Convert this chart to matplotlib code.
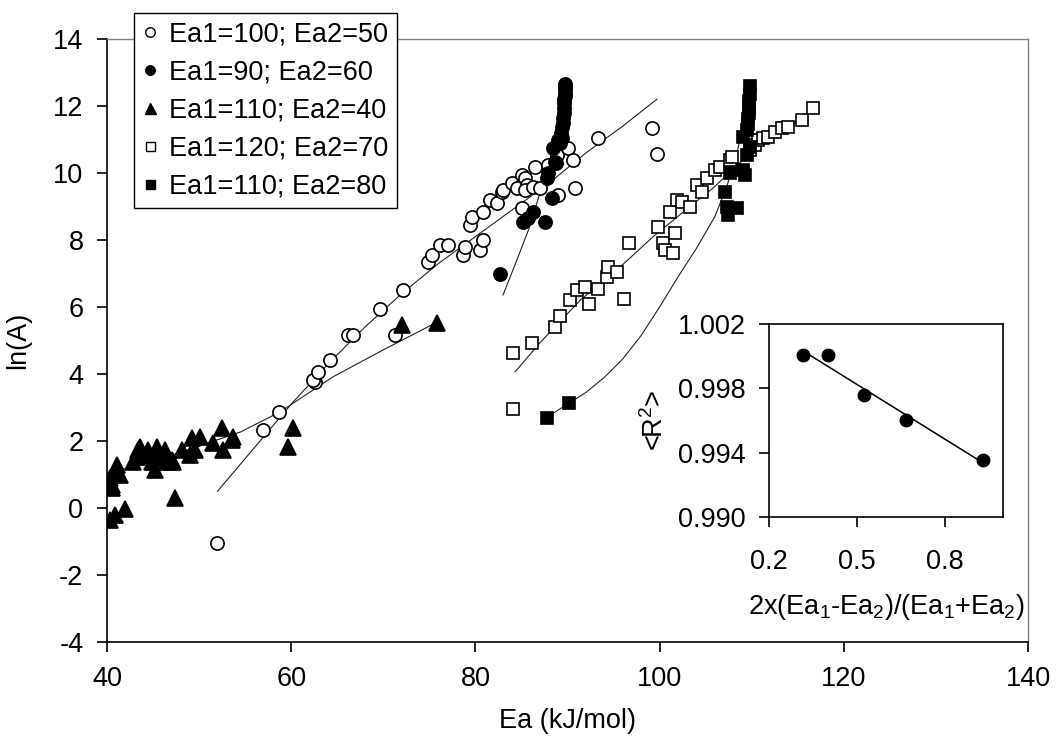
import numpy as np
import matplotlib.pyplot as plt
from matplotlib.lines import Line2D

plt.rcParams['font.family'] = ['Liberation Sans', 'DejaVu Sans']
plt.rcParams['mathtext.fontset'] = 'custom'
plt.rcParams['mathtext.rm'] = 'Liberation Sans'
plt.rcParams['mathtext.it'] = 'Liberation Sans'
plt.rcParams['axes.unicode_minus'] = False
FS = 19.5

# Ea1=100; Ea2=50 (open circles)
x_100_50 = [51.9, 56.9, 58.7, 62.6, 62.4, 62.9, 64.2, 66.2, 66.7, 69.6, 71.3, 72.1,
            74.9, 75.3, 76.2, 77.0, 78.6, 78.9, 80.5, 80.8, 79.4, 79.6, 80.8, 81.6,
            82.3, 82.9, 83.0, 84.0, 84.5, 85.1, 85.4, 85.6, 85.4, 85.1, 86.5, 86.3,
            87.0, 87.9, 88.9, 89.0, 90.1, 90.6, 90.8, 93.3, 99.2, 99.7]
y_100_50 = [-1.04, 2.33, 2.87, 3.76, 3.82, 4.06, 4.42, 5.16, 5.16, 5.94, 5.16, 6.51,
            7.34, 7.55, 7.85, 7.85, 7.55, 7.79, 7.7, 8.0, 8.45, 8.69, 8.84, 9.19,
            9.1, 9.43, 9.49, 9.7, 9.55, 9.94, 9.85, 9.64, 9.49, 8.96, 10.18, 9.58,
            9.55, 10.24, 10.54, 9.34, 10.75, 10.39, 9.55, 11.04, 11.34, 10.57]

# Ea1=90; Ea2=60 (filled circles)
x_90_60 = [82.7, 85.2, 85.7, 86.3, 87.6, 88.3, 87.8, 87.9, 88.6, 88.8, 88.4, 89.0,
           89.2, 89.4, 89.3, 89.4, 89.5, 89.5, 89.6, 89.6, 89.6, 89.6, 89.7, 89.7,
           89.7, 89.7, 89.7]
y_90_60 = [6.99, 8.54, 8.66, 8.84, 8.54, 9.25, 9.85, 10.0, 10.33, 10.3, 10.75, 11.0,
           10.9, 11.04, 11.2, 11.37, 11.5, 11.65, 11.8, 11.95, 12.1, 12.2, 12.3, 12.4,
           12.5, 12.58, 12.65]

# Ea1=110; Ea2=40 (filled triangles)
x_110_40 = [40.3, 40.9, 42.0, 40.5, 40.5, 40.9, 41.1, 41.4, 40.3, 42.8, 43.4, 43.6,
            43.3, 43.9, 44.5, 44.9, 45.2, 45.4, 45.5, 45.9, 46.3, 46.5, 47.1, 47.2,
            47.4, 48.1, 49.0, 49.2, 49.6, 50.1, 51.5, 52.5, 52.6, 53.6, 53.7, 59.7,
            60.2, 72.0, 75.8]
y_110_40 = [-0.36, -0.2, -0.03, 0.6, 0.69, 1.07, 1.28, 0.99, 0.9, 1.37, 1.73, 1.82,
            1.52, 1.58, 1.73, 1.37, 1.13, 1.82, 1.64, 1.49, 1.73, 1.37, 1.43, 1.37,
            0.3, 1.73, 1.58, 2.09, 1.73, 2.12, 1.94, 2.39, 1.73, 2.03, 2.12, 1.82,
            2.39, 5.46, 5.52]

# Ea1=120; Ea2=70 (open squares)
x_120_70 = [84.1, 84.1, 86.1, 88.6, 89.2, 90.3, 91.0, 91.9, 92.3, 93.3, 94.3, 94.4,
            95.4, 96.1, 96.7, 99.8, 100.4, 100.6, 101.1, 101.7, 101.5, 101.9, 102.4,
            103.3, 104.1, 104.6, 105.1, 106.0, 106.6, 107.6, 107.9, 109.8, 110.4,
            110.7, 111.2, 111.8, 112.5, 113.3, 113.9, 115.5, 116.7]
y_120_70 = [2.96, 4.63, 4.93, 5.4, 5.73, 6.21, 6.51, 6.6, 6.09, 6.54, 6.9, 7.19,
            7.04, 6.24, 7.91, 8.39, 7.91, 7.7, 8.84, 8.21, 7.61, 9.19, 9.13,
            8.99, 9.64, 9.43, 9.85, 10.09, 10.18, 10.39, 10.48, 10.69, 10.84,
            10.99, 11.04, 11.07, 11.22, 11.34, 11.37, 11.58, 11.94]

# Ea1=110; Ea2=80 (filled squares)
x_110_80 = [87.8, 90.2, 107.1, 107.3, 107.4, 108.4, 107.6, 109.1, 109.3, 109.5,
            109.8, 109.1, 109.5, 109.6, 109.6, 109.7, 109.7, 109.7, 109.8, 109.8]
y_110_80 = [2.69, 3.13, 9.43, 8.99, 8.75, 8.96, 10.0, 10.09, 9.94, 10.54,
            10.78, 11.07, 11.28, 11.45, 11.6, 11.8, 11.95, 12.15, 12.35, 12.6]

# fitted curves
fit_100_50_x = [52, 56, 60, 64, 68, 72, 76, 80, 84, 88, 92, 96, 99.7]
fit_100_50_y = [0.5, 1.8, 3.1, 4.3, 5.4, 6.4, 7.3, 8.1, 8.9, 9.7, 10.6, 11.4, 12.2]
fit_90_60_x = [83.0, 84.5, 85.9, 87.0, 87.9, 88.7, 89.3, 89.7]
fit_90_60_y = [6.36, 7.4, 8.4, 9.4, 10.2, 11.0, 11.8, 12.6]
fit_110_40_x = [40.3, 45, 50, 54.5, 58.8, 64.5, 70, 75.5]
fit_110_40_y = [1.05, 1.4, 1.85, 2.27, 2.87, 3.91, 4.72, 5.5]
fit_120_70_x = [84.3, 87, 91.4, 95.7, 99.3, 103.3, 105.8, 108.7, 112.3, 116.7]
fit_120_70_y = [4.06, 4.93, 6.21, 7.19, 8.1, 9.0, 9.55, 10.3, 11.07, 11.88]
fit_110_80_x = [88.0, 90.0, 92.0, 94.0, 96.0, 98.0, 100.0, 102.0, 104.0, 106.0,
                107.3, 108.4, 109.2, 109.8]
fit_110_80_y = [2.75, 3.1, 3.45, 3.9, 4.45, 5.15, 6.0, 6.9, 7.75, 8.7,
                9.6, 10.6, 11.6, 12.6]

labels = ['Ea1=100; Ea2=50', 'Ea1=90; Ea2=60', 'Ea1=110; Ea2=40',
          'Ea1=120; Ea2=70', 'Ea1=110; Ea2=80']

# inset
inset_x = [0.316, 0.400, 0.526, 0.667, 0.933]
inset_r2 = [1.0001, 1.0001, 0.99756, 0.99606, 0.99356]

fig = plt.figure(figsize=(10.56, 7.47), dpi=100)
ax = fig.add_axes([107/1056, 1-642/747, 921/1056, 603/747])

lw_fit = 0.8
for fx, fy in [(fit_100_50_x, fit_100_50_y), (fit_90_60_x, fit_90_60_y),
               (fit_110_40_x, fit_110_40_y), (fit_120_70_x, fit_120_70_y),
               (fit_110_80_x, fit_110_80_y)]:
    ax.plot(fx, fy, color='#222222', lw=lw_fit, zorder=2)

styles = [
    (x_100_50, y_100_50, 'o', 'white', 9.5),
    (x_90_60, y_90_60, 'o', 'black', 9.5),
    (x_110_40, y_110_40, '^', 'black', 11),
    (x_120_70, y_120_70, 's', 'white', 9),
    (x_110_80, y_110_80, 's', 'black', 9),
]
handles = []
for (xs, ys, m, fc, ms), lab in zip(styles, labels):
    ax.plot(xs, ys, ls='none', marker=m, ms=ms, mfc=fc, mec='black', mew=1.2, zorder=3)
    handles.append(Line2D([], [], ls='none', marker=m, ms=ms*0.72, mfc=fc,
                          mec='black', mew=1.0))

ax.set_xlim(40, 140)
ax.set_ylim(-4, 14)
ax.set_xticks(range(40, 141, 20))
ax.set_yticks(range(-4, 15, 2))
for s in ['top', 'right']:
    ax.spines[s].set_color('#808080')
    ax.spines[s].set_linewidth(1.0)
for s in ['left', 'bottom']:
    ax.spines[s].set_linewidth(1.2)
ax.tick_params(direction='out', length=7, width=1.2, labelsize=FS)
ax.tick_params(axis='x', pad=10)
ax.tick_params(axis='y', pad=10)
ax.set_xlabel('Ea (kJ/mol)', fontsize=FS, labelpad=12)
ax.set_ylabel('ln(A)', fontsize=FS, labelpad=16)

fig.legend(handles, labels, loc='upper left', bbox_to_anchor=(134/1056, 1-13/747),
           fontsize=FS, frameon=True, fancybox=False, edgecolor='black',
           framealpha=1, handlelength=0.6, handletextpad=0.4, borderpad=0.3,
           labelspacing=0.45, borderaxespad=0)

# inset
ins = fig.add_axes([769/1056, 1-517/747, 234/1056, 193/747])
ins.plot(inset_x, inset_r2, ls='none', marker='o', ms=9, color='black', zorder=3)
k, b = np.polyfit(inset_x, inset_r2, 1)
xl = np.array([inset_x[0], inset_x[-1]])
ins.plot(xl, k*xl + b, color='black', lw=1.1)
ins.set_xlim(0.2, 1.0)
ins.set_ylim(0.990, 1.002)
ins.set_xticks([0.2, 0.5, 0.8])
ins.set_xticklabels(['0.2', '0.5', '0.8'])
ins.set_yticks([0.990, 0.994, 0.998, 1.002])
ins.set_yticklabels(['0.990', '0.994', '0.998', '1.002'])
for s in ins.spines.values():
    s.set_linewidth(1.2)
ins.tick_params(direction='out', length=7, width=1.2, labelsize=FS)
ins.tick_params(axis='x', pad=16)
ins.tick_params(axis='y', pad=10)
ins.set_xlabel(r'2x(Ea$_1$-Ea$_2$)/(Ea$_1$+Ea$_2$)', fontsize=FS, labelpad=12)
ins.set_ylabel(r'<R$^2$>', fontsize=FS, labelpad=6)

fig.savefig('out.png', dpi=100)
